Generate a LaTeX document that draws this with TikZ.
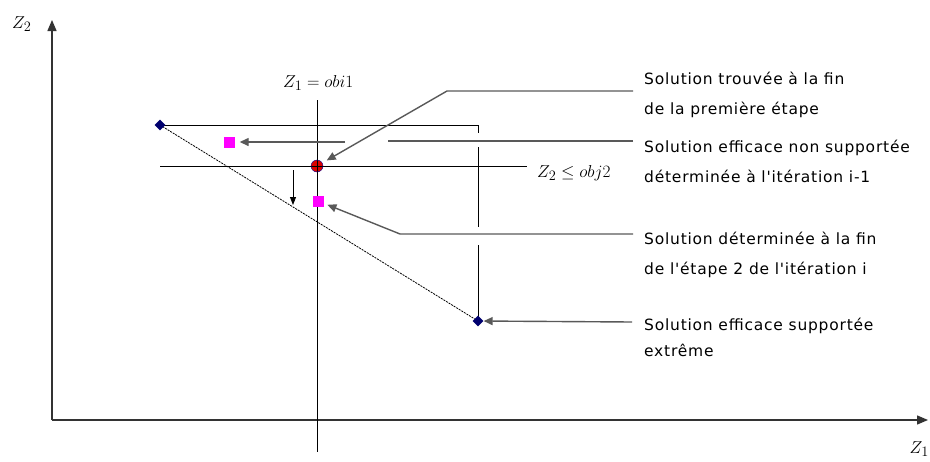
\documentclass[tikz,border=0pt]{standalone}
\usepackage{fontspec}
\newfontfamily\notefont[LetterSpace=5]{DejaVu Sans}
\usetikzlibrary{arrows.meta,positioning,shapes.geometric}
\definecolor{pinksq}{RGB}{255,0,255}
\definecolor{navypt}{RGB}{0,0,110}

\begin{document}
\begin{tikzpicture}[
	x=1pt, y=-1pt,
	axis/.style={draw=black!80, line width=1.3pt, -{Triangle[length=11pt,width=9pt]}},
	guide/.style={draw=black, line width=0.9pt},
	leader/.style={draw=black!65, line width=1.4pt},
	pointer/.style={leader, -{Triangle[length=9pt,width=8pt]}},
	front/.style={draw=black, line width=0.8pt, dash pattern=on 2pt off 1pt},
	extreme/.style={diamond, fill=navypt, inner sep=0pt, minimum size=11pt},
	nonsup/.style={rectangle, fill=pinksq, inner sep=0pt, minimum size=11pt},
	found/.style={
		circle,
		draw=blue!60!black,
		fill=red!85!black,
		inner sep=0pt,
		minimum size=12pt,
		path picture={
			\draw[black, line width=0.8pt]
			(path picture bounding box.north) -- (path picture bounding box.south)
			(path picture bounding box.west) -- (path picture bounding box.east);
		}
	},
	note/.style={
		font=\notefont\fontsize{15.5}{30}\selectfont,
		anchor=north west,
		align=left,
		inner sep=0pt
	},
	eq/.style={font=\fontsize{19}{23}\selectfont, inner sep=0pt, anchor=base west}
	]
	\useasboundingbox (0,0) rectangle (930,461);
	
	% axes
	\coordinate (origin) at (52,420);
	\coordinate (ztop) at (52,20);
	\coordinate (zright) at (928,420);
	\draw[axis] (origin) -- (ztop);
	\draw[axis] (origin) -- (zright);
	\node[eq] (zaxis2) at (12,28) {$Z_2$};
	\node[eq, anchor=base east] (zaxis1) at (929,453) {$Z_1$};
	
	% constraint lines
	\coordinate (pA) at (160,125);
	\coordinate (pB) at (478,321);
	\coordinate (pS) at (317,166);
	\coordinate (pQ) at (229,142);
	\coordinate (pR) at (318,201);
	\draw[guide] (317,100) -- (317,452);
	\draw[guide] (160,166) -- (527,166);
	\draw[guide] (pA) -- (478,125) -- (478,133);
	\draw[guide] (478,147) -- (478,227);
	\draw[guide] (478,245) -- (pB);
	\draw[front] (pA) -- (pB);
	\node[eq] (zobi) at (283,87) {$Z_1 = obi1$};
	\node[eq] (zobj) at (537,177) {$Z_2 \leq obj2$};
	
	% solutions
	\node[extreme] (topd) at (pA) {};
	\node[extreme] (botd) at (pB) {};
	\node[found] (sol) at (pS) {};
	\node[nonsup] (sqa) at (pQ) {};
	\node[nonsup] (sqb) at (pR) {};
	
	\coordinate (dn1) at (293,170);
	\coordinate (dn2) at (293,205);
	\draw[guide, -{Triangle[length=8pt,width=6pt]}] (dn1) -- (dn2);
	
	% notes
	\node[note] (lab1) at (644,72) {Solution trouvée à la fin\\de la première étape};
	\node[note] (lab2) at (644,140) {Solution efficace non supportée\\déterminée à l'itération i-1};
	\node[note] (lab3) at (644,232) {Solution déterminée à la fin\\de l'étape 2 de l'itération i};
	\node[note, font=\notefont\fontsize{15.5}{26}\selectfont] (lab4) at (644,318)
	{Solution efficace supportée\\extrême};
	
	\coordinate (e1) at (633,91);
	\coordinate (k1) at (447,91);
	\coordinate (e2) at (633,141);
	\coordinate (k2) at (388,141);
	\coordinate (k3) at (345,142);
	\coordinate (e3) at (633,234);
	\coordinate (k4) at (400,234);
	\coordinate (e4) at (632,322);
	\draw[pointer, shorten >=5pt] (e1) -- (k1) -- (sol);
	\draw[leader] (e2) -- (k2);
	\draw[pointer, shorten >=5pt] (k3) -- (sqa);
	\draw[pointer, shorten >=4pt] (e3) -- (k4) -- (sqb);
	\draw[pointer] (e4) -- (botd);
\end{tikzpicture}
\end{document}
